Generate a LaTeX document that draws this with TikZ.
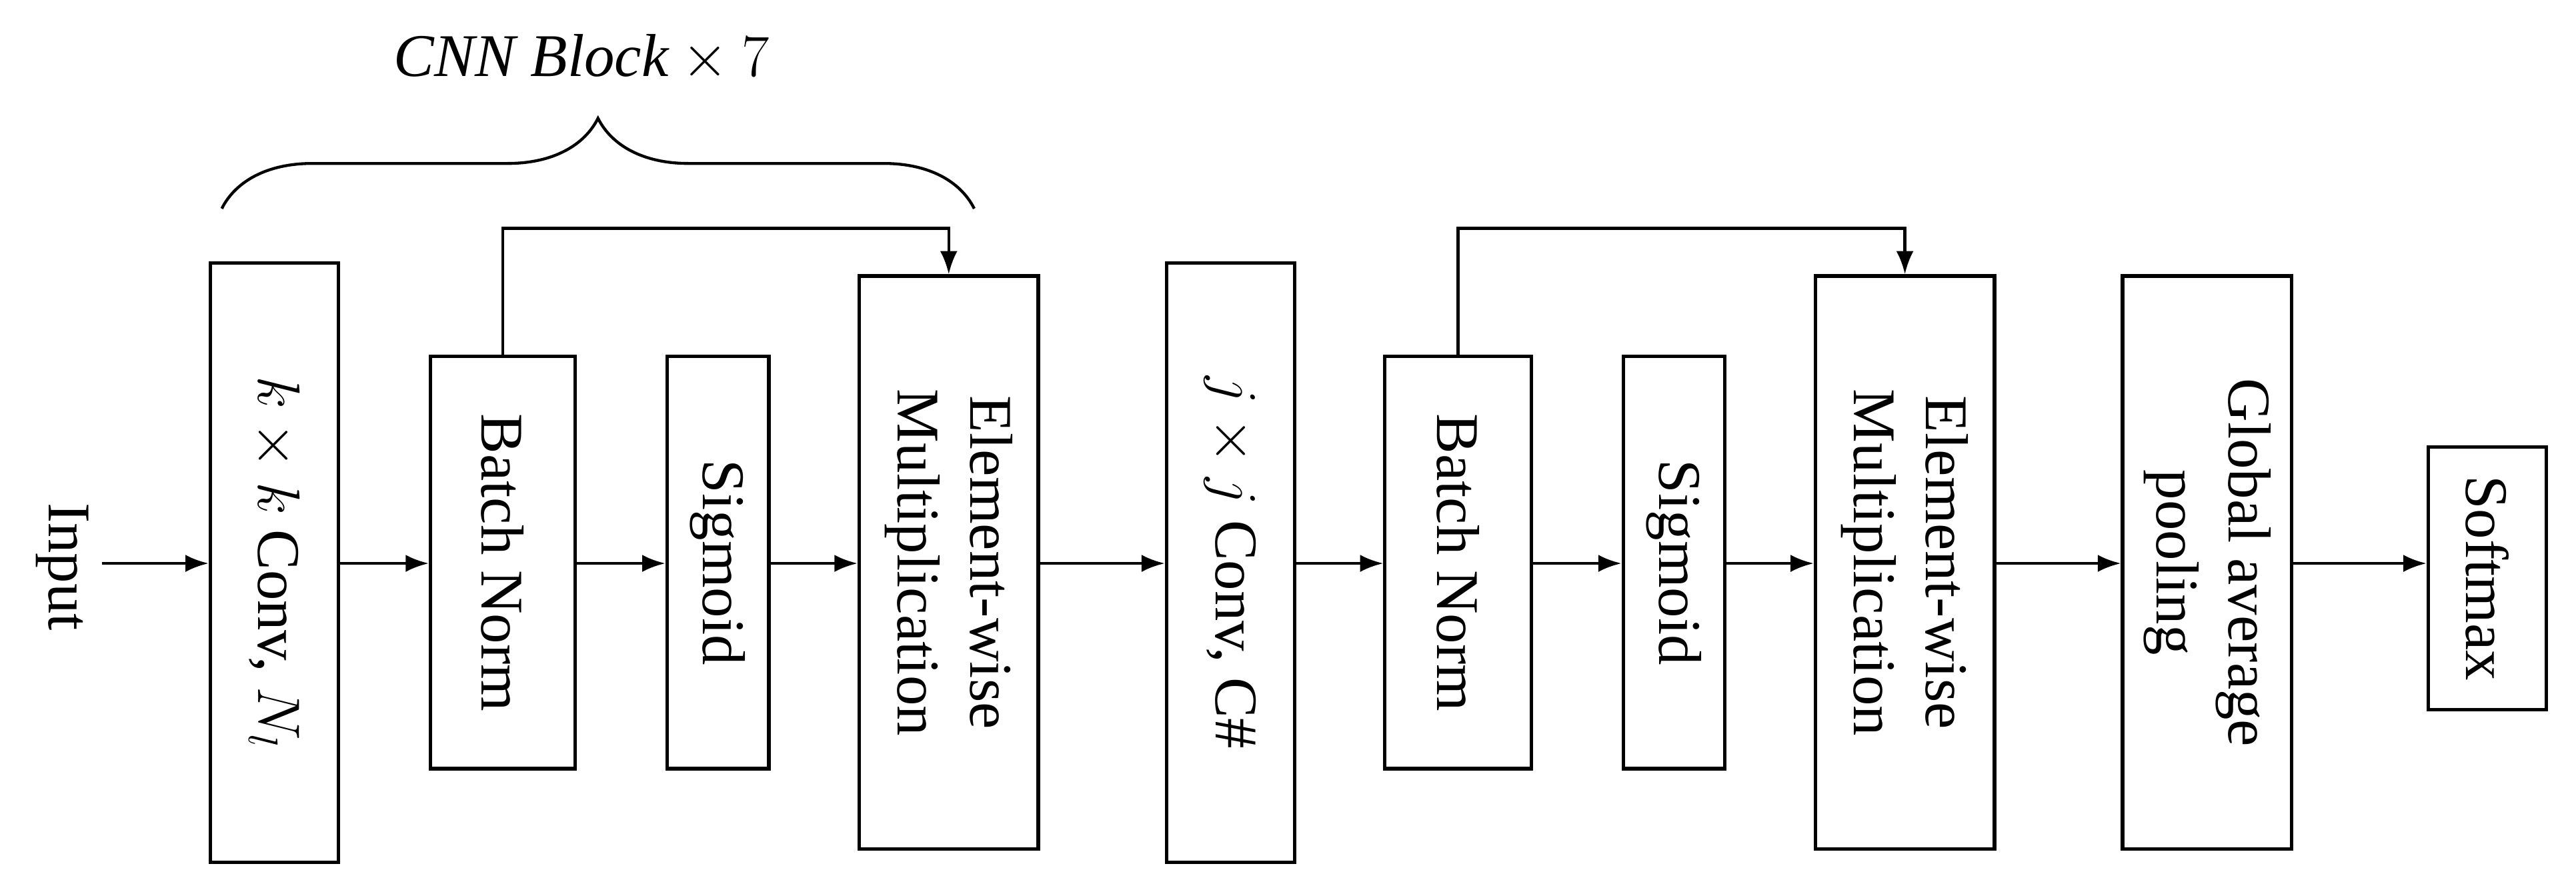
\documentclass[tikz,border=0pt]{standalone}
\usepackage{fontspec}
\setmainfont{Liberation Serif}
\usetikzlibrary{decorations.pathreplacing,arrows.meta}
\begin{document}
\begin{tikzpicture}[x=0.02cm,y=-0.02cm,
  box/.style={draw,line width=1.2pt,inner sep=0pt,align=center},
  arr/.style={-{Latex[length=8pt,width=6pt]},line width=1pt}]
\useasboundingbox (0,0) rectangle (1568,532);
\newcommand{\bx}[6]{\node[box,minimum width=#4*0.02cm,minimum height=#5*0.02cm] (#1) at (#2,#3) {}; \node[rotate=-90,font=\fontsize{21}{25}\selectfont,align=center] at (#1.center) {#6};}
\bx{c1}{167}{342.5}{78}{365}{$k\times k$ Conv, $N_l$}
\bx{bn1}{306}{342.5}{88}{251}{Batch Norm}
\bx{sg1}{437}{342.5}{62}{251}{Sigmoid}
\bx{em1}{577.5}{342.5}{109}{349}{Element-wise\\Multiplication}
\bx{c2}{749}{342.5}{78}{365}{$j\times j$ Conv, C\#}
\bx{bn2}{887.5}{342.5}{89}{251}{Batch Norm}
\bx{sg2}{1019}{342.5}{62}{251}{Sigmoid}
\bx{em2}{1159.5}{342.5}{109}{349}{Element-wise\\Multiplication}
\bx{gap}{1343.5}{342.5}{103}{349}{Global average\\pooling}
\bx{sm}{1514}{352}{72}{160}{Softmax}
\node[rotate=-90,font=\fontsize{21}{25}\selectfont] (in) at (38,345) {Input};
\coordinate (ins) at (62,343);
\draw[arr] (ins) -- (c1.west|-ins);
\foreach \a/\b in {c1/bn1,bn1/sg1,sg1/em1,em1/c2,c2/bn2,bn2/sg2,sg2/em2,em2/gap}
  \draw[arr] (\a.east|-ins) -- (\b.west|-ins);
\draw[arr] (gap.east|-ins) -- (sm.west|-ins);
\draw[arr] (bn1.north) -- ++(0,-77) -| (em1.north);
\draw[arr] (bn2.north) -- ++(0,-77) -| (em2.north);
\coordinate (b1) at (135,127); \coordinate (b2) at (593,127);
\draw[line width=1pt,decorate,decoration={brace,amplitude=1.1cm}] (b1) -- (b2);
\node[font=\fontsize{21}{25}\selectfont] (lab) at (354,35) {$\mathit{CNN\ Block}\times 7$};
\end{tikzpicture}
\end{document}
